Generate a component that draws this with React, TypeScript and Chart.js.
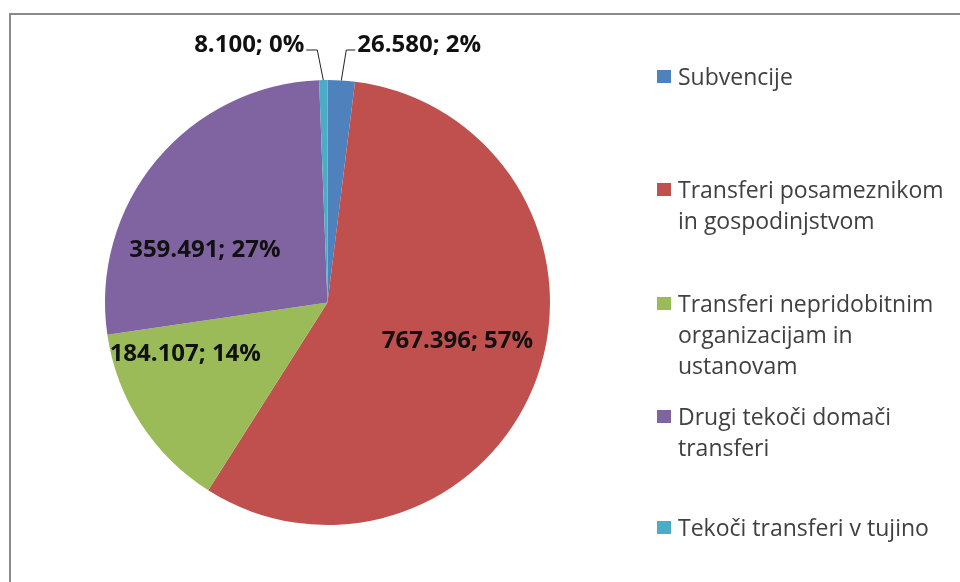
import React, { useEffect, useRef } from "react";
import { Chart, registerables } from "chart.js";

Chart.register(...registerables);

// ---- data ----
const categories = [
  "Subvencije",
  "Transferi posameznikom in gospodinjstvom",
  "Transferi nepridobitnim organizacijam in ustanovam",
  "Drugi tekoči domači transferi",
  "Tekoči transferi v tujino",
];
const values = [26580, 767396, 184107, 359491, 8100];
const valueLabels = ["26.580", "767.396", "184.107", "359.491", "8.100"];
const percentLabels = ["2%", "57%", "14%", "27%", "0%"];
const legendLines = [
  ["Subvencije"],
  ["Transferi posameznikom", "in gospodinjstvom"],
  ["Transferi nepridobitnim", "organizacijam in", "ustanovam"],
  ["Drugi tekoči domači", "transferi"],
  ["Tekoči transferi v tujino"],
];

// ---- styles ----
const colors = ["#4F81BD", "#C0504D", "#9BBB59", "#8064A2", "#4BACC6"];
const labelFont = "bold 24px 'Open Sans'";
const legendFont = "23px 'Open Sans'";
const labelPlacement: any[] = [
  { outside: true, side: 1, elbowDx: 5, elbowDy: -30, run: 9 },
  { frac: 0.61, shift: -3 },
  { frac: 0.68, shift: 13 },
  { frac: 0.6, shift: -16.5 },
  { outside: true, side: -1, elbowDx: -6, elbowDy: -30, run: 11 },
];
const legendBaselines = [85, 198, 312, 425, 536];
const legendLineHeight = 31;

const decorPlugin = {
  id: "decor",
  beforeDraw(chart: any) {
    const ctx = chart.ctx;
    ctx.save();
    ctx.fillStyle = "#ffffff";
    ctx.fillRect(0, 0, chart.width, chart.height);
    ctx.strokeStyle = "#8a8a8a";
    ctx.lineWidth = 2;
    ctx.beginPath();
    ctx.moveTo(10, chart.height);
    ctx.lineTo(10, 14);
    ctx.lineTo(chart.width, 14);
    ctx.stroke();
    ctx.restore();
  },
  afterDatasetsDraw(chart: any) {
    const ctx = chart.ctx;
    const meta = chart.getDatasetMeta(0);
    ctx.save();
    ctx.font = labelFont;
    ctx.fillStyle = "#111111";
    meta.data.forEach((arc: any, i: number) => {
      const p = arc.getProps(["x", "y", "startAngle", "endAngle", "outerRadius"], true);
      const mid = (p.startAngle + p.endAngle) / 2;
      const text = valueLabels[i] + "; " + percentLabels[i];
      const st = labelPlacement[i];
      if (!st.outside) {
        const a = mid + (st.shift * Math.PI) / 180;
        const r = p.outerRadius * st.frac;
        ctx.textAlign = "center";
        ctx.textBaseline = "middle";
        ctx.fillText(text, p.x + Math.cos(a) * r, p.y + Math.sin(a) * r);
      } else {
        const ex = p.x + Math.cos(mid) * p.outerRadius;
        const ey = p.y + Math.sin(mid) * p.outerRadius;
        const bx = ex + st.elbowDx;
        const by = p.y - p.outerRadius + st.elbowDy;
        const hx = bx + st.side * st.run;
        ctx.strokeStyle = "#222222";
        ctx.lineWidth = 1;
        ctx.beginPath();
        ctx.moveTo(ex, ey);
        ctx.lineTo(bx, by);
        ctx.lineTo(hx, by);
        ctx.stroke();
        ctx.textAlign = st.side > 0 ? "left" : "right";
        ctx.textBaseline = "alphabetic";
        ctx.fillText(text, hx + st.side * 2, by + 2);
      }
    });
    // legend
    ctx.font = legendFont;
    ctx.textAlign = "left";
    ctx.textBaseline = "alphabetic";
    legendLines.forEach((lines, i) => {
      const base = legendBaselines[i];
      ctx.fillStyle = colors[i];
      ctx.fillRect(657, base - 15, 14, 13);
      ctx.fillStyle = "#404040";
      lines.forEach((ln, j) => {
        ctx.fillText(ln, 678, base + j * legendLineHeight);
      });
    });
    ctx.restore();
  },
};

export default function App() {
  const ref = useRef<HTMLCanvasElement | null>(null);
  useEffect(() => {
    if (!ref.current) return;
    const chart = new Chart(ref.current, {
      type: "pie",
      data: {
        labels: categories,
        datasets: [
          {
            data: values,
            backgroundColor: colors,
            borderWidth: 0,
          },
        ],
      },
      options: {
        responsive: false,
        animation: false,
        layout: { padding: { left: 103, top: 80, right: 408, bottom: 57 } },
        plugins: {
          legend: { display: false },
          tooltip: { enabled: false },
        },
      },
      plugins: [decorPlugin],
    });
    return () => chart.destroy();
  }, []);
  return (
    <div style={{ position: "absolute", left: 0, top: 0, width: 960, height: 582, background: "#fff" }}>
      <canvas ref={ref} width={960} height={582} style={{ display: "block" }} />
    </div>
  );
}
